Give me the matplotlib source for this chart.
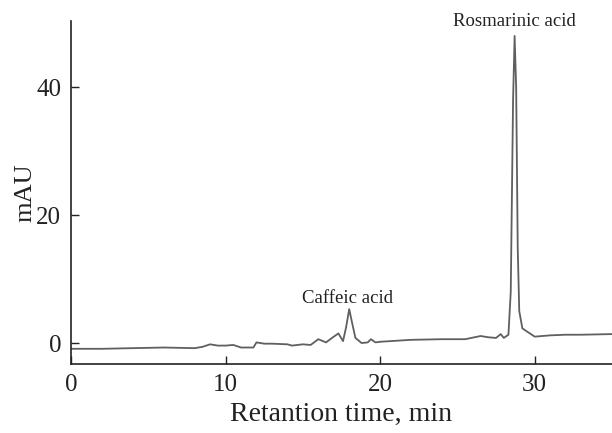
import matplotlib
matplotlib.use("Agg")
import matplotlib.pyplot as plt

plt.rcParams['font.family'] = ['Liberation Serif', 'DejaVu Serif']

# chromatogram trace
time_min = [0, 2, 4, 6, 8, 8.5, 9, 9.5, 10, 10.5, 11, 11.8, 12, 12.5, 13, 14,
            14.3, 15, 15.5, 16, 16.5, 17, 17.3, 17.6, 17.8, 18.0, 18.2, 18.4,
            18.8, 19.2, 19.4, 19.7, 20, 22, 24, 25.5, 26.5, 27, 27.5, 27.8,
            28.0, 28.3, 28.45, 28.6, 28.7, 28.8, 28.9, 29.0, 29.2, 29.5, 30,
            31, 32, 33, 35]
signal_mau = [-0.9, -0.9, -0.8, -0.7, -0.8, -0.6, -0.2, -0.4, -0.4, -0.3, -0.7,
              -0.7, 0.1, -0.1, -0.1, -0.2, -0.4, -0.2, -0.3, 0.6, 0.1, 1.0, 1.5,
              0.3, 2.5, 5.3, 3.0, 0.8, 0.0, 0.1, 0.6, 0.1, 0.2, 0.5, 0.6, 0.6,
              1.1, 0.9, 0.8, 1.4, 0.8, 1.3, 8.0, 38.0, 48.0, 40.0, 15.0, 5.0,
              2.3, 1.8, 1.0, 1.2, 1.3, 1.3, 1.4]

peak_names = ['Caffeic acid', 'Rosmarinic acid']
peak_label_x = [17.9, 28.7]
peak_label_y = [6.9, 50.2]

x_ticks = [0, 10, 20, 30]
y_ticks = [0, 20, 40]

fig = plt.figure(figsize=(6.12, 4.33), dpi=100)
ax = fig.add_axes([0.116, 0.159, 0.884, 0.792])

ax.plot(time_min, signal_mau, color='#5f5f5f', lw=1.3)

for name, lx, ly in zip(peak_names, peak_label_x, peak_label_y):
    ax.text(lx, ly, name, ha='center', va='center', fontsize=13.5,
            color='#222222', clip_on=False)

ax.set_xlim(0, 35)
ax.set_ylim(-3.3, 50.3)
ax.set_xticks(x_ticks)
ax.set_yticks(y_ticks)
ax.tick_params(direction='in', length=6, width=1, labelsize=18,
               colors='#222222', pad=7)
for side in ['top', 'right']:
    ax.spines[side].set_visible(False)
for side in ['left', 'bottom']:
    ax.spines[side].set_linewidth(1.2)
    ax.spines[side].set_color('#222222')

ax.set_xlabel('Retantion time, min', fontsize=20, color='#222222', labelpad=4)
ax.set_ylabel('mAU', fontsize=19, color='#222222', labelpad=0)

fig.savefig('out.png', dpi=100)
